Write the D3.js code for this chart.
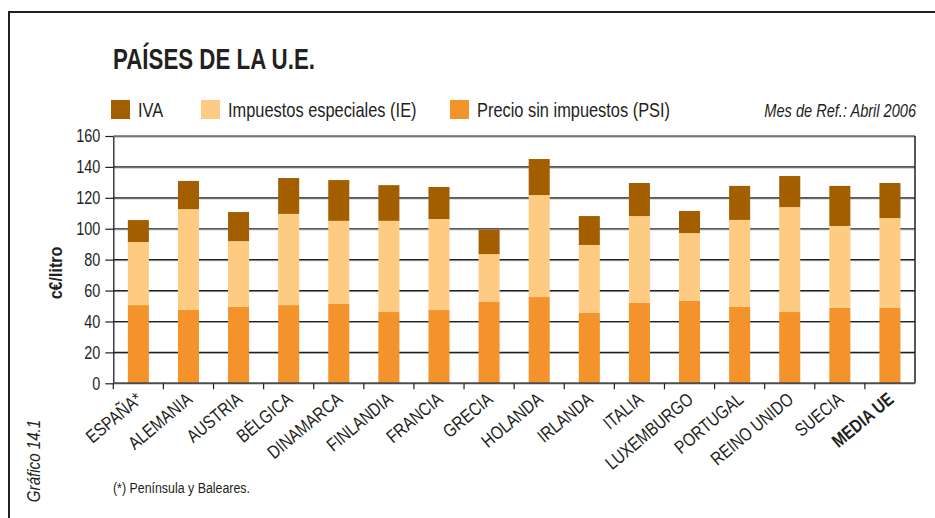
<!DOCTYPE html>
<html>
<head>
<meta charset="utf-8">
<script src="https://cdn.jsdelivr.net/npm/d3@7"></script>
<style>
  html, body { margin: 0; padding: 0; background: #fff; }
  svg { display: block; }
  text { font-family: "Liberation Sans", Arial, sans-serif; fill: #231f20; }
</style>
</head>
<body>
<svg id="chart" width="935" height="518"></svg>
<script>
// Países y precios del carburante (c€/litro), abril 2006
const countries = ["ESPAÑA*", "ALEMANIA", "AUSTRIA", "BÉLGICA", "DINAMARCA", "FINLANDIA", "FRANCIA", "GRECIA",
                   "HOLANDA", "IRLANDA", "ITALIA", "LUXEMBURGO", "PORTUGAL", "REINO UNIDO", "SUECIA", "MEDIA UE"];
const psi = [50.6, 47.4, 49.4, 50.6, 51.3, 46.1, 47.4, 52.6, 55.8, 45.5, 52.0, 53.3, 49.4, 46.1, 48.8, 48.8];
const ie  = [40.8, 65.3, 42.6, 59.0, 53.8, 59.0, 58.9, 31.0, 66.0, 44.0, 56.2, 43.9, 56.3, 67.9, 53.0, 58.1];
const iva = [14.2, 18.2, 18.8, 23.2, 26.4, 23.1, 20.7, 15.8, 23.3, 18.7, 21.4, 14.3, 22.0, 20.1, 25.9, 22.7];
const yTicks = [0, 20, 40, 60, 80, 100, 120, 140, 160];

const seriesKeys = ["psi", "ie", "iva"];
const seriesNames = { iva: "IVA", ie: "Impuestos especiales (IE)", psi: "Precio sin impuestos (PSI)" };
const colors = { iva: "#a35e00", ie: "#fdcb81", psi: "#f4922b" };

const rows = countries.map((c, i) => ({ country: c, psi: psi[i], ie: ie[i], iva: iva[i] }));
const stacked = d3.stack().keys(seriesKeys)(rows);

// condensed lettering: horizontal squeeze of a regular sans
const NARROW = 0.8;
const at = (px, py, rot = 0, k = NARROW) => `translate(${px},${py}) rotate(${rot}) scale(${k},1)`;

const svg = d3.select("#chart");

// outer frame (left and top edges)
svg.append("path")
  .attr("d", "M9,518V12H935")
  .attr("fill", "none").attr("stroke", "#231f20").attr("stroke-width", 2);

// title
svg.append("text")
  .attr("x", 113).attr("y", 69)
  .attr("font-size", 29).attr("font-weight", "bold")
  .attr("textLength", 202).attr("lengthAdjust", "spacingAndGlyphs")
  .text("PAÍSES DE LA U.E.");

// legend
const legendItems = [
  { key: "iva", x: 111 },
  { key: "ie", x: 201 },
  { key: "psi", x: 450 }
];
const lg = svg.append("g");
lg.selectAll("rect").data(legendItems).join("rect")
  .attr("x", d => d.x).attr("y", 100).attr("width", 19).attr("height", 19)
  .attr("fill", d => colors[d.key]);
lg.selectAll("text").data(legendItems).join("text")
  .attr("transform", d => at(d.x + 27, 117))
  .attr("font-size", 20.5)
  .text(d => seriesNames[d.key]);

svg.append("text")
  .attr("transform", at(916, 117, 0, 0.81))
  .attr("text-anchor", "end").attr("font-size", 18).attr("font-style", "italic")
  .text("Mes de Ref.: Abril 2006");

// plot area bounds and scales
const plotL = 113.3, plotR = 915, plotT = 136, plotB = 383.3;
const x = d3.scaleBand().domain(countries).range([plotL, plotR]).paddingInner(0.58).paddingOuter(0.29);
const y = d3.scaleLinear().domain([0, 160]).range([plotB, plotT]);

// horizontal grid lines
const grid = svg.append("g");
grid.selectAll("line.g1").data(yTicks.filter(t => t > 0)).join("line")
  .attr("class", "g1")
  .attr("x1", plotL).attr("x2", plotR)
  .attr("y1", d => y(d) + 1).attr("y2", d => y(d) + 1)
  .attr("stroke", "#9a9a9a").attr("stroke-width", 1);
grid.selectAll("line.g0").data(yTicks.filter(t => t > 0)).join("line")
  .attr("class", "g0")
  .attr("x1", plotL).attr("x2", plotR)
  .attr("y1", d => y(d)).attr("y2", d => y(d))
  .attr("stroke", "#231f20").attr("stroke-width", 1.2);

// stacked bars
svg.append("g").selectAll("g").data(stacked).join("g")
  .attr("fill", d => colors[d.key])
  .selectAll("rect").data(d => d).join("rect")
  .attr("x", d => x(d.data.country))
  .attr("width", x.bandwidth())
  .attr("y", d => y(d[1]))
  .attr("height", d => y(d[0]) - y(d[1]));

// right border of plot area
svg.append("line")
  .attr("x1", plotR).attr("x2", plotR).attr("y1", plotT).attr("y2", plotB)
  .attr("stroke", "#231f20").attr("stroke-width", 1.5);

// y axis
const yAxis = svg.append("g")
  .attr("transform", `translate(${plotL},0)`)
  .call(d3.axisLeft(y).tickValues(yTicks).tickSize(8).tickPadding(5).tickSizeOuter(0));
yAxis.attr("font-family", null).attr("font-size", 18.5);
yAxis.select(".domain").attr("stroke", "#231f20").attr("stroke-width", 1.3);
yAxis.selectAll(".tick line").attr("stroke", "#231f20").attr("stroke-width", 1.2);
yAxis.selectAll(".tick text")
  .attr("fill", "#231f20")
  .attr("x", null)
  .attr("transform", at(-13, 0, 0, 0.78));

// x axis: ticks on band boundaries
const xAxisG = svg.append("g");
xAxisG.append("line")
  .attr("x1", plotL).attr("x2", plotR).attr("y1", plotB).attr("y2", plotB)
  .attr("stroke", "#4d4d4d").attr("stroke-width", 2);
const bounds = d3.range(countries.length).map(i => plotL + i * x.step());
xAxisG.selectAll("line.tk").data(bounds).join("line")
  .attr("class", "tk")
  .attr("x1", d => d).attr("x2", d => d)
  .attr("y1", plotB).attr("y2", plotB + 6)
  .attr("stroke", "#231f20").attr("stroke-width", 1.2);
xAxisG.selectAll("text").data(countries).join("text")
  .attr("transform", d => at(x(d) + x.bandwidth() / 2 + 5, plotB + 18, -40, 0.82))
  .attr("text-anchor", "end")
  .attr("font-size", 18.5)
  .attr("font-weight", d => d === "MEDIA UE" ? "bold" : null)
  .text(d => d);

// y axis title
svg.append("text")
  .attr("transform", at(62, 273, -90, 0.92))
  .attr("text-anchor", "middle").attr("font-size", 17.5).attr("font-weight", "bold")
  .text("c€/litro");

// footnote and figure number
svg.append("text")
  .attr("transform", at(113, 493))
  .attr("font-size", 15.5)
  .text("(*) Península y Baleares.");
svg.append("text")
  .attr("transform", at(40, 461, -90, 0.84))
  .attr("text-anchor", "middle").attr("font-size", 18).attr("font-style", "italic")
  .text("Gráfico 14.1");
</script>
</body>
</html>
